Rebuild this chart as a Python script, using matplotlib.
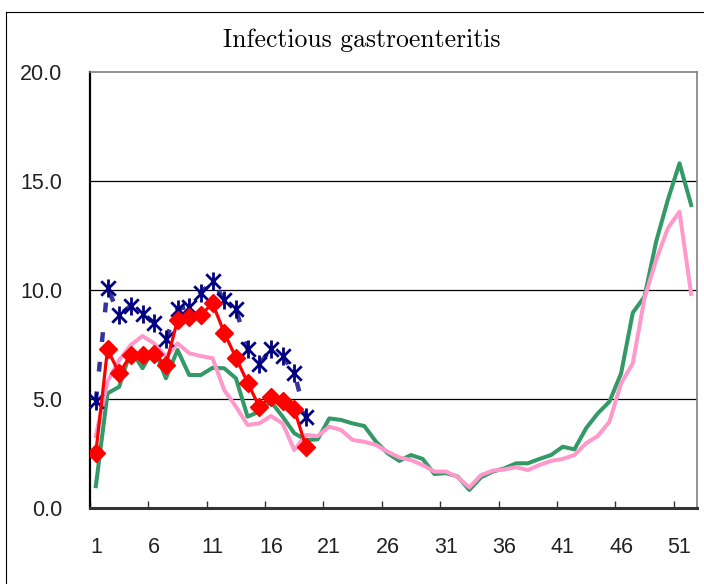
import matplotlib
matplotlib.use("Agg")
import matplotlib.pyplot as plt
from matplotlib.path import Path
from matplotlib.lines import Line2D

# semanas e valores
semanas = list(range(1, 53))
semanas_atual = list(range(1, 20))

serie_asterisco = [4.9, 10.1, 8.85, 9.28, 8.88, 8.5, 7.74, 9.13, 9.23, 9.88,
                   10.4, 9.54, 9.14, 7.28, 6.6, 7.28, 6.97, 6.2, 4.16]

serie_vermelha = [2.54, 7.28, 6.18, 7.02, 7.02, 7.06, 6.56, 8.62, 8.78, 8.85,
                  9.39, 8.04, 6.9, 5.75, 4.65, 5.1, 4.89, 4.53, 2.81]

serie_verde = [1.0, 5.26, 5.56, 7.25, 6.41, 7.33, 5.95, 7.25, 6.1, 6.1,
               6.43, 6.41, 5.95, 4.19, 4.42, 4.88, 4.19, 3.43, 3.12, 3.15,
               4.11, 4.04, 3.88, 3.76, 3.04, 2.51, 2.16, 2.43, 2.25, 1.56,
               1.6, 1.44, 0.83, 1.41, 1.67, 1.82, 2.05, 2.05, 2.25, 2.43,
               2.81, 2.69, 3.66, 4.34, 4.88, 6.18, 8.96, 9.69, 12.22, 14.13,
               15.81, 13.9]

serie_rosa = [3.3, 5.8, 6.79, 7.48, 7.89, 7.55, 6.94, 7.55, 7.1, 6.97,
              6.87, 5.41, 4.65, 3.81, 3.88, 4.22, 3.88, 2.66, 3.35, 3.3,
              3.73, 3.58, 3.12, 3.04, 2.89, 2.58, 2.32, 2.2, 1.97, 1.67,
              1.67, 1.41, 0.95, 1.51, 1.71, 1.77, 1.87, 1.74, 1.97, 2.16,
              2.25, 2.43, 2.97, 3.3, 3.96, 5.72, 6.64, 9.62, 11.38, 12.83,
              13.59, 9.82]

rotulos_x = [1, 6, 11, 16, 21, 26, 31, 36, 41, 46, 51]
rotulos_y = [0, 5, 10, 15, 20]

# asterisco estilo Excel: X + traço vertical
asterisco = Path([(-1, -1), (1, 1), (-1, 1), (1, -1), (0, -1.25), (0, 1.25)],
                 [Path.MOVETO, Path.LINETO, Path.MOVETO, Path.LINETO,
                  Path.MOVETO, Path.LINETO])

fig = plt.figure(figsize=(7.04, 5.84), dpi=100)
ax = fig.add_axes([90 / 704, 76 / 584, 607 / 704, 436 / 584])

ax.plot(semanas, serie_verde, color="#339966", lw=2.9, zorder=2)
ax.plot(semanas, serie_rosa, color="#FF99CC", lw=2.9, zorder=3)
ax.plot(semanas_atual, serie_asterisco, color="#333399", lw=3.2,
        linestyle=(0, (2.2, 4.5)), marker=asterisco, ms=13, mew=2,
        mec="#000080", zorder=4)
ax.plot(semanas_atual, serie_vermelha, color="#FF0000", lw=2.3,
        marker="D", ms=9, mfc="#FF0000", mec="#FF0000", zorder=5)

ax.set_xlim(0.5, 52.5)
ax.set_ylim(0, 20)

for v in rotulos_y[1:-1]:
    ax.axhline(v, color="black", lw=0.9, zorder=1)

ax.set_yticks(rotulos_y)
ax.set_yticklabels([f"{v:.1f}" for v in rotulos_y])
ax.set_xticks(rotulos_x)
ax.set_xticklabels([str(v) for v in rotulos_x])
ax.set_xticks([0.5 + 5 * k for k in range(11)], minor=True)

fonte = ["Liberation Sans", "DejaVu Sans"]
for lab in ax.get_xticklabels() + ax.get_yticklabels():
    lab.set_family(fonte)
    lab.set_fontsize(15.5)
    lab.set_color("#222222")

ax.tick_params(axis="y", length=0, pad=20)
ax.tick_params(axis="x", which="major", length=0, pad=21)
ax.tick_params(axis="x", which="minor", direction="in", length=5,
               width=1, color="#333333")

ax.spines["left"].set_color("black")
ax.spines["left"].set_linewidth(1.6)
ax.spines["bottom"].set_color("#333333")
ax.spines["bottom"].set_linewidth(2.2)
ax.spines["top"].set_color("#808080")
ax.spines["top"].set_linewidth(1.2)
ax.spines["right"].set_color("#808080")
ax.spines["right"].set_linewidth(1.2)

fig.text(362 / 704, 1 - 40 / 584, "Infectious gastroenteritis",
         family=["cmr10", "DejaVu Serif"], fontsize=18.5,
         ha="center", va="center")

# moldura externa
fig.add_artist(Line2D([6 / 704, 6 / 704], [0, 1 - 12 / 584], color="black",
                      lw=0.8, transform=fig.transFigure))
fig.add_artist(Line2D([6 / 704, 1], [1 - 12 / 584, 1 - 12 / 584],
                      color="black", lw=0.8, transform=fig.transFigure))

fig.savefig("out.png", dpi=100)
